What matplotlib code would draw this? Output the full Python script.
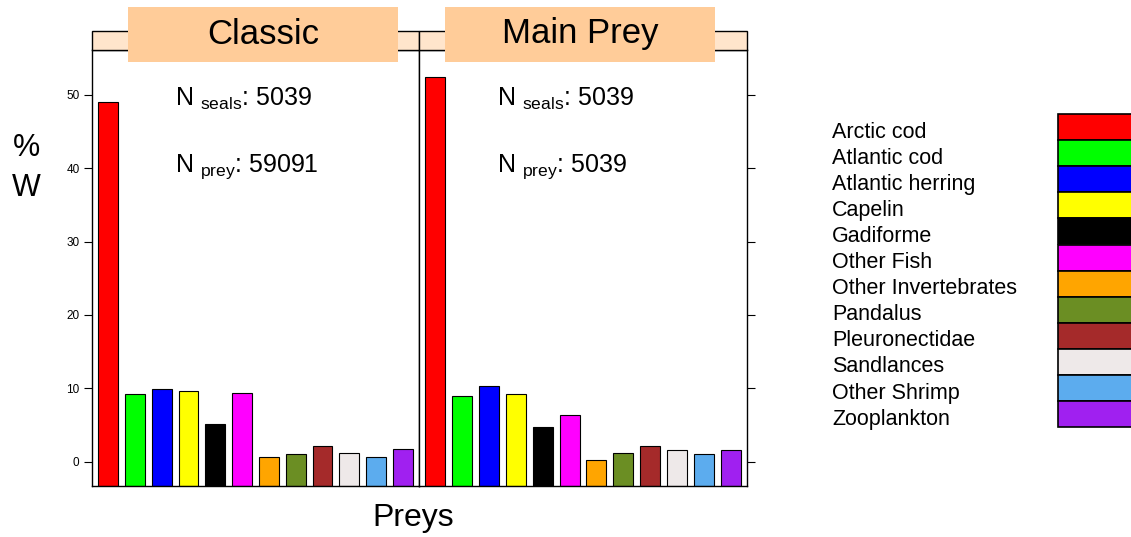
import matplotlib.pyplot as plt
from matplotlib.patches import Rectangle
import numpy as np

plt.rcParams['font.family'] = ['Liberation Sans', 'DejaVu Sans']
plt.rcParams['mathtext.fontset'] = 'custom'
plt.rcParams['mathtext.rm'] = 'Liberation Sans'
plt.rcParams['mathtext.it'] = 'Liberation Sans'

preys = ['Arctic cod', 'Atlantic cod', 'Atlantic herring', 'Capelin', 'Gadiforme',
         'Other Fish', 'Other Invertebrates', 'Pandalus', 'Pleuronectidae',
         'Sandlances', 'Other Shrimp', 'Zooplankton']
colors = ['#FF0000', '#00FF00', '#0000FF', '#FFFF00', '#000000', '#FF00FF',
          '#FFA500', '#6B8E23', '#A52A2A', '#EEE9E9', '#5CACEE', '#A020F0']

panels = ['Classic', 'Main Prey']
classic_w = [49.0, 9.3, 9.9, 9.7, 5.2, 9.4, 0.6, 1.1, 2.1, 1.2, 0.6, 1.8]
mainprey_w = [52.4, 9.0, 10.3, 9.2, 4.7, 6.4, 0.3, 1.2, 2.2, 1.6, 1.1, 1.6]
n_seals = [5039, 5039]
n_prey = [59091, 5039]

W, H = 1131, 537
fig = plt.figure(figsize=(W / 100, H / 100), dpi=100)

ymin, ymax = -3.3, 56.1
x = np.arange(1, len(preys) + 1)
panel_px = [(92, 419), (419, 747)]
top_px, bot_px = 50, 486
text_x = [0.254, 0.238]

for i, (vals, (x0, x1)) in enumerate(zip([classic_w, mainprey_w], panel_px)):
    ax = fig.add_axes([x0 / W, 1 - bot_px / H, (x1 - x0) / W, (bot_px - top_px) / H])
    vals = np.array(vals)
    ax.bar(x, vals - ymin, bottom=ymin, width=0.74, color=colors,
           edgecolor='black', linewidth=0.8)
    ax.set_xlim(0.4, 12.6)
    ax.set_ylim(ymin, ymax)
    ax.set_xticks([])
    ax.set_yticks([0, 10, 20, 30, 40, 50])
    if i == 0:
        ax.tick_params(axis='y', left=True, right=False, labelleft=True,
                       labelsize=8.5, length=6, width=0.8, pad=3)
    else:
        ax.tick_params(axis='y', left=False, right=True, labelleft=False,
                       labelright=False, length=6, width=0.8)
    for s in ax.spines.values():
        s.set_linewidth(1.0)
    ax.text(text_x[i], 0.887, r'N $_{\rm seals}$: %d' % n_seals[i], transform=ax.transAxes,
            fontsize=18, va='center', ha='left')
    ax.text(text_x[i], 0.733, r'N $_{\rm prey}$: %d' % n_prey[i], transform=ax.transAxes,
            fontsize=18, va='center', ha='left')

# overlay in pixel coordinates for strips, axis titles and key
ov = fig.add_axes([0, 0, 1, 1], zorder=5)
ov.set_xlim(0, W)
ov.set_ylim(H, 0)
ov.axis('off')
ov.patch.set_alpha(0)

for (x0, x1) in panel_px:
    ov.add_patch(Rectangle((x0, 31), x1 - x0, 19, facecolor='#FFE5CC',
                           edgecolor='black', linewidth=1.0))
strip_boxes = [(128, 398), (445, 715)]
for name, (x0, x1) in zip(panels, strip_boxes):
    ov.add_patch(Rectangle((x0, 7), x1 - x0, 55, facecolor='#FFCC99', edgecolor='none'))
    ov.text((x0 + x1) / 2, 34, name, fontsize=25, ha='center', va='center')

ov.text(26, 148, '%', fontsize=22, ha='center', va='center')
ov.text(26, 188, 'W', fontsize=22, ha='center', va='center')
ov.text(413, 518, 'Preys', fontsize=23, ha='center', va='center')

row_h = 26.1
key_top = 114
for k, (lab, c) in enumerate(zip(preys, colors)):
    y0 = key_top + k * row_h
    ov.add_patch(Rectangle((1058, y0), 90, row_h, facecolor=c,
                           edgecolor='black', linewidth=1.2, clip_on=False))
    ov.text(832, y0 + row_h / 2 + 5, lab, fontsize=15.5, ha='left', va='center')

fig.savefig('out.png', dpi=100)
